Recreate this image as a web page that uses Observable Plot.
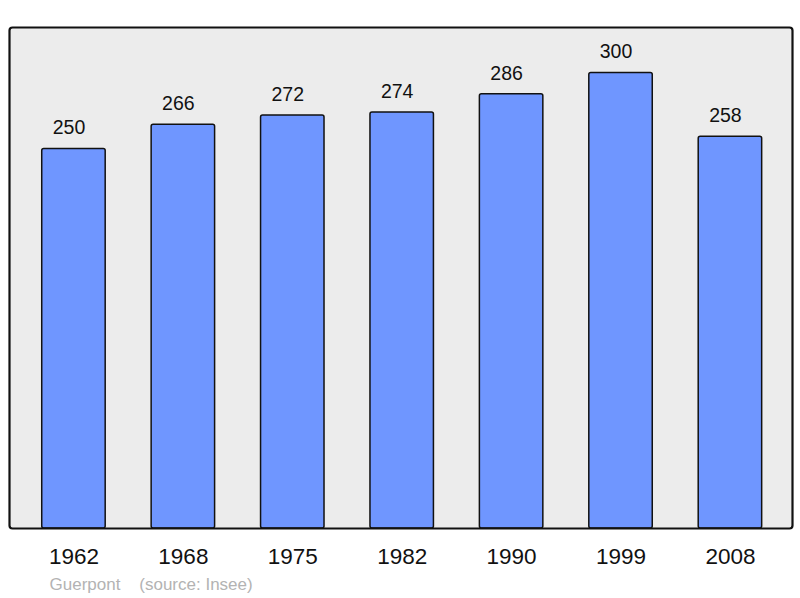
<!DOCTYPE html>
<html>
<head>
<meta charset="utf-8">
<script src="https://cdn.jsdelivr.net/npm/d3@7"></script>
<script src="https://cdn.jsdelivr.net/npm/@observablehq/plot@0.6"></script>
<style>
  html, body { margin: 0; padding: 0; background: #fff; }
  svg { display: block; }
</style>
</head>
<body>
<div id="chart"></div>
<script>
const years = ["1962", "1968", "1975", "1982", "1990", "1999", "2008"];
const population = [250, 266, 272, 274, 286, 300, 258];
const captionText = "Guerpont\u00a0\u00a0\u00a0\u00a0(source: Insee)";

const data = years.map((y, i) => ({year: y, value: population[i]}));
const font = "'Liberation Sans', Arial, sans-serif";

const chart = Plot.plot({
  width: 800,
  height: 598,
  marginLeft: 9,
  marginRight: 8,
  marginTop: 27,
  marginBottom: 70,
  style: {fontFamily: font, background: "white", overflow: "visible"},
  x: {domain: years, range: [10, 793.4], round: false, paddingInner: 0.42, paddingOuter: 0.29, label: null},
  y: {domain: [0, 330], axis: null},
  marks: [
    Plot.frame({fill: "#ececec", stroke: "none", rx: 3}),
    Plot.barY(data, {x: "year", y: "value", fill: "#6f96ff", stroke: "#111", strokeWidth: 1.5, rx: 2}),
    Plot.text(data, {x: "year", y: "value", text: d => String(d.value), dx: -5, dy: -21, fontSize: 19.5, fill: "#111"}),
    Plot.frame({fill: "none", stroke: "#111", strokeWidth: 2.2, rx: 3}),
    Plot.axisX({tickSize: 0, tickPadding: 20, fontSize: 22.5, color: "#111", label: null}),
    Plot.text([captionText], {frameAnchor: "bottom-left", text: d => d, dx: 40, dy: 61, fontSize: 17, fill: "#b3b3b3", textAnchor: "start"})
  ]
});
document.getElementById("chart").appendChild(chart);
</script>
</body>
</html>
